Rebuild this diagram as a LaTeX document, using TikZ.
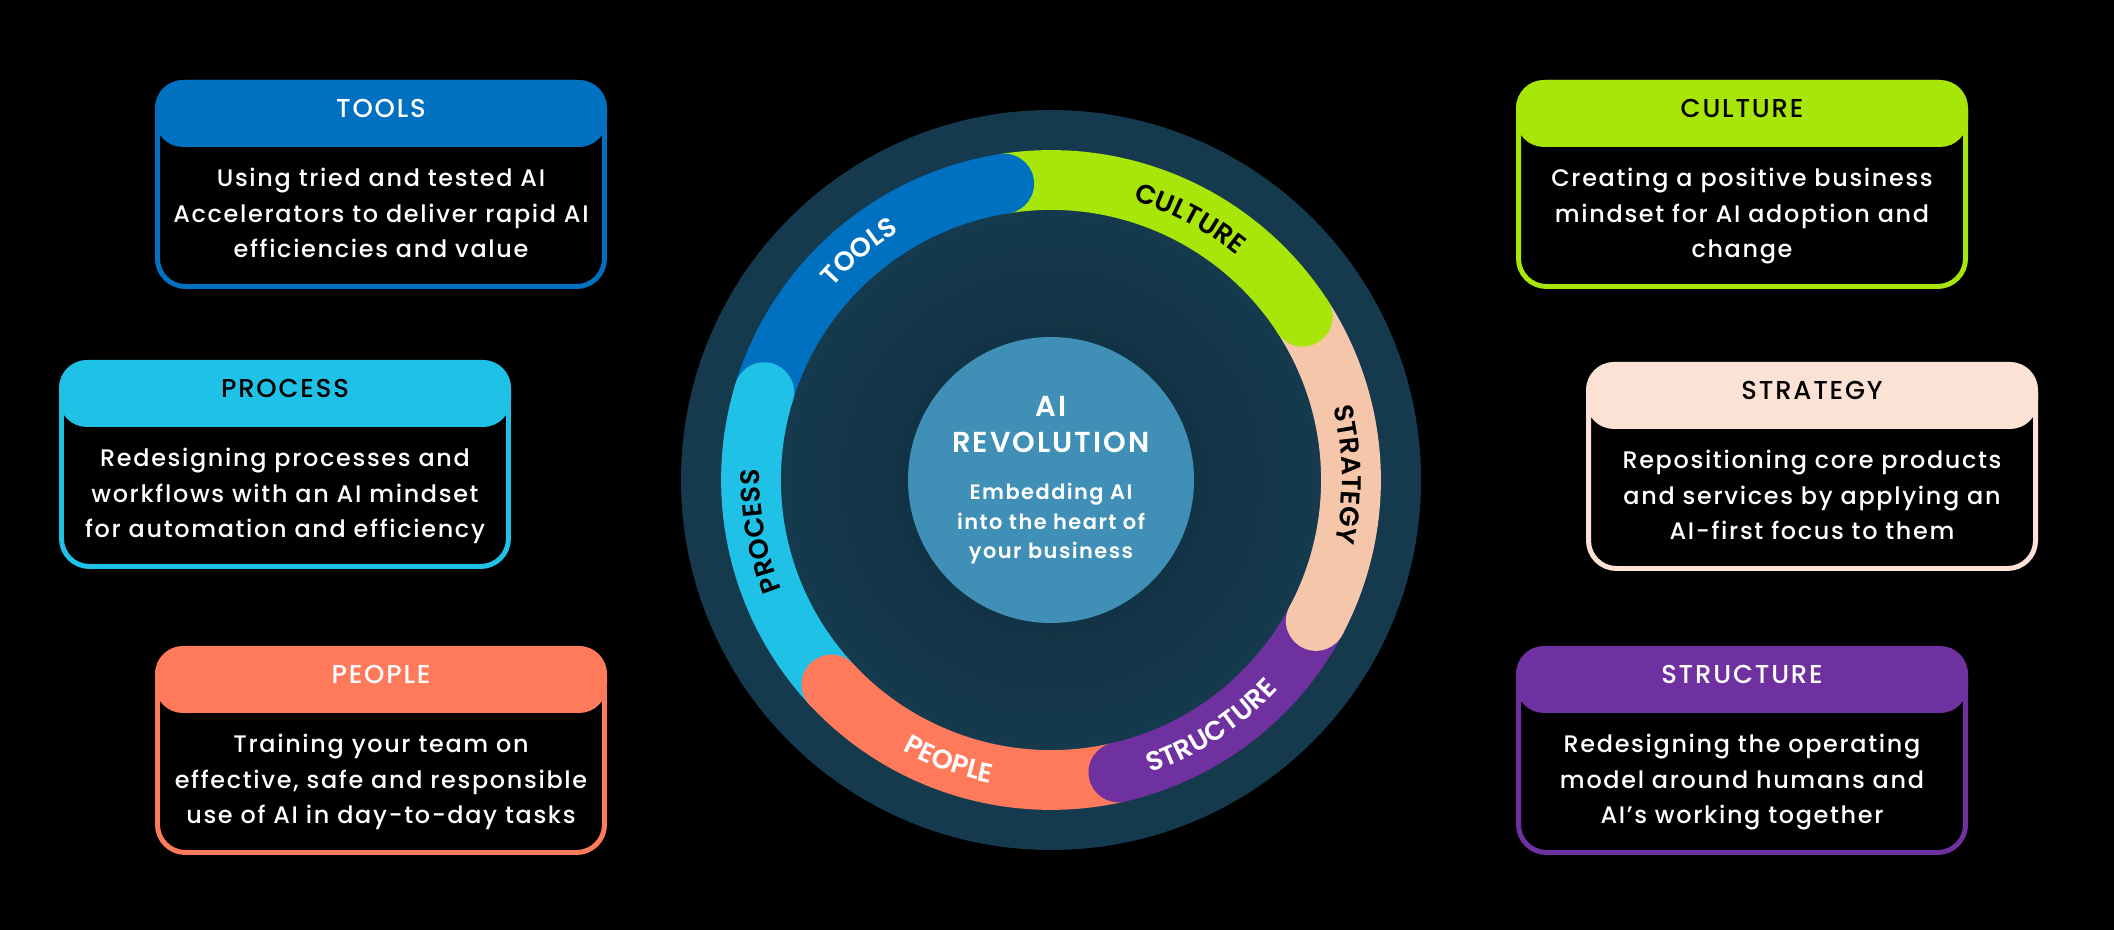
\documentclass[tikz,border=0pt]{standalone}
\usepackage{fontspec}
\setmainfont{Poppins}[UprightFont={* Medium}, BoldFont={* SemiBold}, LetterSpace=7]
\usetikzlibrary{decorations.text}

\definecolor{toolsblue}{HTML}{0070C0}
\definecolor{culturelime}{HTML}{A8E60A}
\definecolor{strategypeach}{HTML}{F5C6A9}
\definecolor{strategylight}{HTML}{FCE2D4}
\definecolor{processcyan}{HTML}{20C1E7}
\definecolor{peoplecoral}{HTML}{FF795B}
\definecolor{structurepurple}{HTML}{7031A0}
\definecolor{hubblue}{HTML}{3F8FB6}
\definecolor{bandteal}{HTML}{153A4D}
\definecolor{coreteal}{HTML}{0E2B3B}

\newcommand{\ringfont}{\bfseries\fontsize{27}{27}\selectfont}
\tikzstyle{boxline}=[line width=5, rounded corners=28]
\tikzstyle{boxtitle}=[anchor=base, font=\fontsize{26}{30}\selectfont]
\tikzstyle{boxbody}=[anchor=base, align=center, white, font=\fontsize{24}{36}\selectfont]
\tikzstyle{hubtitle}=[anchor=base, white, font=\bfseries\fontsize{29}{35}\selectfont]
\tikzstyle{hubbody}=[anchor=base, align=center, white, font=\bfseries\fontsize{21}{30}\selectfont]

% name, left, top, colour, title colour, title, text
\newcommand{\infobox}[7]{
  \draw[boxline, #4] (#2+2.5,#3-2.5) rectangle ++(447,-204);
  \fill[#4, rounded corners=28] (#2,#3) rectangle ++(452,-67);
  \node[boxtitle, #5] (#1title) at (#2+226,#3-38) {#6};
  \node[boxbody] (#1text) at (#2+226,#3-178) {#7};
}

\begin{document}
\begin{tikzpicture}[x=1bp, y=1bp]
\useasboundingbox (0,0) rectangle (2114,930);
\fill[black] (0,0) rectangle (2114,930);
\coordinate (hub) at (1051,450);
% Disc
    \fill[bandteal] (hub) circle[radius=370];
    \shade[inner color=coreteal, outer color=bandteal] (hub) circle[radius=270];
% Ring
    \foreach \col/\from/\to in {toolsblue/163/99, culturelime/99/33, strategypeach/33/-28,
        structurepurple/-28/-77, peoplecoral/-77/-137, processcyan/223/163}
      \draw[\col, line width=60] ([shift={(\from:300)}]hub) arc[start angle=\from, end angle=\to, radius=300];
    \foreach \col/\to in {toolsblue/99, culturelime/33, strategypeach/-28,
        structurepurple/-77, peoplecoral/-137, processcyan/163}
      \fill[\col] ([shift={(\to:300)}]hub) circle[radius=30];
% Ring labels
    \path[decorate, decoration={text along path, text align=center, text color=white, text={|\ringfont|TOOLS}}]
      ([shift={(160:291)}]hub) arc[start angle=160, end angle=100, radius=291];
    \path[decorate, decoration={text along path, text align=center, text color=black, text={|\ringfont|CULTURE}}]
      ([shift={(92:291)}]hub) arc[start angle=92, end angle=32, radius=291];
    \path[decorate, decoration={text along path, text align=center, text color=black, text={|\ringfont|STRATEGY}}]
      ([shift={(31:291)}]hub) arc[start angle=31, end angle=-29, radius=291];
    \path[decorate, decoration={text along path, text align=center, text color=white, text={|\ringfont|STRUCTURE}}]
      ([shift={(-87:309)}]hub) arc[start angle=-87, end angle=-27, radius=309];
    \path[decorate, decoration={text along path, text align=center, text color=white, text={|\ringfont|PEOPLE}}]
      ([shift={(-140:309)}]hub) arc[start angle=-140, end angle=-80, radius=309];
    \path[decorate, decoration={text along path, text align=center, text color=black, text={|\ringfont|PROCESS}}]
      ([shift={(220:291)}]hub) arc[start angle=220, end angle=160, radius=291];
% Hub
    \fill[hubblue] (hub) circle[radius=143];
    \node[hubtitle] (ai) at (1051,513) {AI};
    \node[hubtitle] (revolution) at (1051,477) {REVOLUTION};
    \node[hubbody] (hubtext) at (1051,371) {Embedding AI\\into the heart of\\your business};
% Boxes
    \infobox{tools}{155}{850}{toolsblue}{white}{TOOLS}{Using tried and tested AI\\Accelerators to deliver rapid AI\\efficiencies and value}
    \infobox{process}{59}{570}{processcyan}{black}{PROCESS}{Redesigning processes and\\workflows with an AI mindset\\for automation and efficiency}
    \infobox{people}{155}{284}{peoplecoral}{white}{PEOPLE}{Training your team on\\effective, safe and responsible\\use of AI in day-to-day tasks}
    \infobox{culture}{1516}{850}{culturelime}{black}{CULTURE}{Creating a positive business\\mindset for AI adoption and\\change}
    \infobox{strategy}{1586}{568}{strategylight}{black}{STRATEGY}{Repositioning core products\\and services by applying an\\AI-first focus to them}
    \infobox{structure}{1516}{284}{structurepurple}{white}{STRUCTURE}{Redesigning the operating\\model around humans and\\AI’s working together}
\end{tikzpicture}
\end{document}
